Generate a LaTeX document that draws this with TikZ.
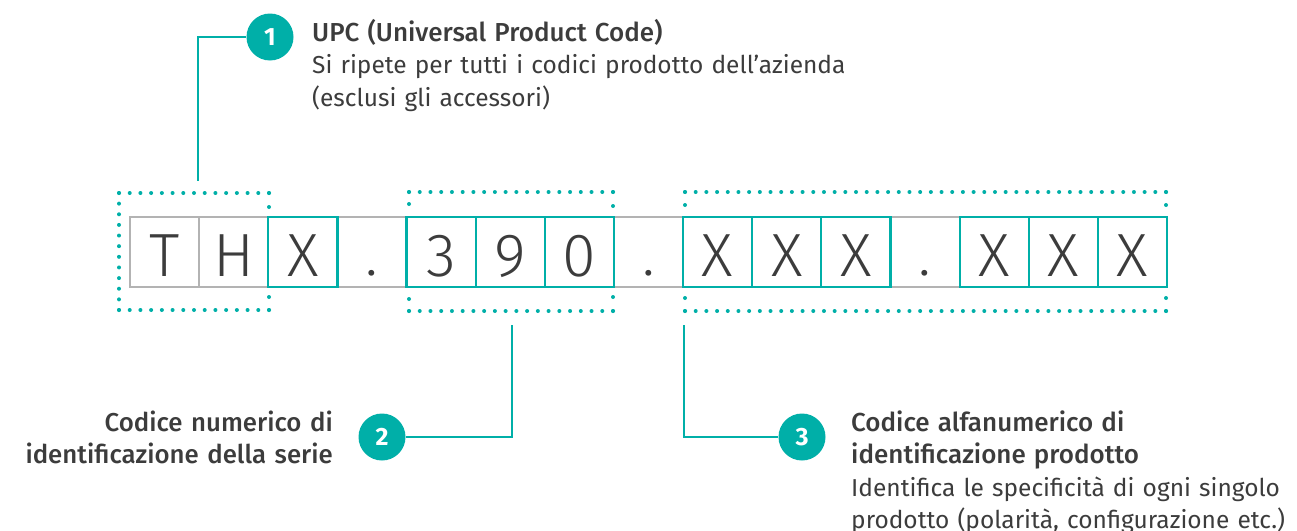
\documentclass[tikz,border=0pt]{standalone}
\usepackage{fontspec}
\setmainfont{Fira Sans}
\newfontfamily\charfont{Fira Sans Light}
\newfontfamily\headfont{Fira Sans Medium}
\usetikzlibrary{calc}
\definecolor{teal1}{HTML}{00AFA8}
\definecolor{graybox}{HTML}{B3B3B3}
\definecolor{ink}{HTML}{3C3C3C}
\newcommand{\dotrow}[3]{\foreach \k in {0,...,#3} \fill[teal1] ($#1!\k/#3!#2$) circle (2pt);}
\newcommand{\hd}{\headfont\fontsize{26}{32.5}\selectfont}
\begin{document}
\begin{tikzpicture}[x=1pt,y=-1pt,
 strip/.style={draw=graybox,line width=2.4pt,minimum width=1037pt,minimum height=70pt,inner sep=0pt},
 cellg/.style={draw=graybox,line width=2.4pt,minimum width=69.133pt,minimum height=70pt,inner sep=0pt},
 cellt/.style={draw=teal1,line width=2.2pt,minimum width=69.133pt,minimum height=70pt,inner sep=0pt},
 ch/.style={font=\charfont\fontsize{61}{61}\selectfont,text=ink,anchor=base,inner sep=0pt},
 callout/.style={draw=teal1,line width=2.2pt},
 badge/.style={circle,fill=teal1,minimum size=47pt,inner sep=0pt,text=white,font=\bfseries\fontsize{25}{25}\selectfont},
 lbl/.style={text=ink,inner sep=0pt,font=\fontsize{24.5}{32.5}\selectfont},
]
\path[use as bounding box] (0,0) rectangle (1297,530);
\clip (0,0) rectangle (1297,530);
% strip and cells
\node[strip] (strip) at (648.5,252) {};
\foreach \i/\st in {1/cellg,2/cellg,3/cellt,5/cellt,6/cellt,7/cellt,9/cellt,10/cellt,11/cellt,13/cellt,14/cellt,15/cellt}
  \node[\st] (c\i) at ({130+69.133*(\i-0.5)},252) {};
\node[ch] (k1) at ([yshift=12pt]c1.south) {T};
\node[ch] (k2) at ([yshift=12pt]c2.south) {H};
\node[ch] (k3) at ([yshift=12pt]c3.south) {X};
\node[ch] (p1) at (371.97,275) {.};
\node[ch] (k5) at ([yshift=12pt]c5.south) {3};
\node[ch] (k6) at ([yshift=12pt]c6.south) {9};
\node[ch] (k7) at ([yshift=12pt]c7.south) {0};
\node[ch] (p2) at (648.5,275) {.};
\node[ch] (k9) at ([yshift=12pt]c9.south) {X};
\node[ch] (k10) at ([yshift=12pt]c10.south) {X};
\node[ch] (k11) at ([yshift=12pt]c11.south) {X};
\node[ch] (p3) at (925.1,275) {.};
\node[ch] (k13) at ([yshift=12pt]c13.south) {X};
\node[ch] (k14) at ([yshift=12pt]c14.south) {X};
\node[ch] (k15) at ([yshift=12pt]c15.south) {X};
% dotted frames
\dotrow{(119,193)}{(269,193)}{14}
\dotrow{(119,310)}{(269,310)}{14}
\dotrow{(119,193)}{(119,310)}{11}
\dotrow{(269,193)}{(269,207)}{1}
\dotrow{(269,297)}{(269,310)}{1}
\dotrow{(409,192)}{(613,192)}{19}
\dotrow{(409,311)}{(613,311)}{19}
\dotrow{(409,192)}{(409,204)}{1}
\dotrow{(613,192)}{(613,206)}{1}
\dotrow{(409,299)}{(409,311)}{1}
\dotrow{(613,297)}{(613,311)}{1}
\dotrow{(685,192)}{(1166,192)}{45}
\dotrow{(685,311)}{(1166,311)}{45}
\dotrow{(685,192)}{(685,205)}{1}
\dotrow{(1166,192)}{(1166,205)}{1}
\dotrow{(685,298)}{(685,311)}{1}
\dotrow{(1166,298)}{(1166,311)}{1}
% badges and callouts
\node[badge] (n1) at (270,37) {1};
\node[badge] (n2) at (382,437) {2};
\node[badge] (n3) at (802,437) {3};
\coordinate (e1) at (198,181);
\coordinate (e2) at (512,325);
\coordinate (e3) at (684,325);
\draw[callout] (n1.west) -| (e1);
\draw[callout] (n2.east) -| (e2);
\draw[callout] (n3.west) -| (e3);
% labels
\node[lbl,text width=620pt,align=left,anchor=base west] (t1) at (312,41)
  {{\hd UPC (Universal Product Code)}\\Si ripete per tutti i codici prodotto dell’azienda\\(esclusi gli accessori)};
\node[lbl,text width=340pt,align=right,anchor=base east,font=\headfont\fontsize{25.8}{32.5}\selectfont] (t2) at (333,431)
  {Codice numerico di\\identificazione della serie};
\node[lbl,text width=470pt,align=left,anchor=base west] (t3) at (851,431)
  {{\hd Codice alfanumerico di\\identificazione prodotto}\\Identifica le specificità di ogni singolo\\prodotto (polarità, configurazione etc.)};
\end{tikzpicture}
\end{document}
